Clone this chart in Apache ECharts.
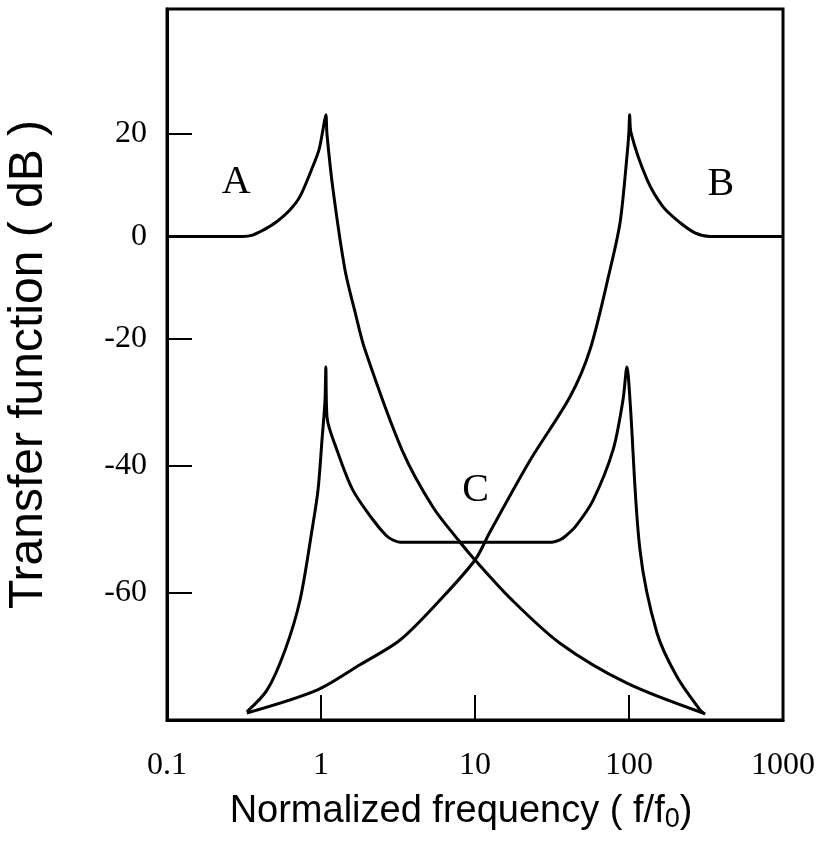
<!DOCTYPE html>
<html><head><meta charset="utf-8">
<script src="https://cdn.jsdelivr.net/npm/echarts@6/dist/echarts.min.js"></script>
<style>html,body{margin:0;padding:0;background:#fff}#c{width:819px;height:852px}</style>
</head><body><div id="c"></div>
<script>
// ---- data (frequency f/f0, transfer function in dB) ----
const curveA = [
  [0.1,0],[0.311,0],[0.356,0.2],[0.402,0.9],[0.45,1.7],[0.518,2.9],[0.630,5.2],[0.731,7.8],[0.887,13.7],[0.971,16.9],[1.03,20.8],
  [1.075,23.7],[1.094,19.8],[1.197,9.1],[1.431,-6.5],[1.663,-14.7],[1.931,-21.7],[3.36,-37.5],[5.34,-46.5],[8.0,-52.0],
  [10.0,-54.8],[16.9,-60.8],[35.6,-67.9],[97.0,-74.2],[302.6,-78.9]
];
const curveB = [
  [0.330,-78.9],[0.942,-75.3],[1.79,-71.3],[3.26,-67.4],[5.93,-61.1],[10.0,-54.8],[12.5,-50.4],[22.8,-39.1],[41.4,-29.1],
  [55.8,-21.7],[75.3,-6.5],[87.5,2.7],[97.0,15.6],[99.8,20.2],[101.0,23.7],[103,20.2],[130.8,11.1],[166,5.8],[214,2.7],
  [268,0.7],[336,0],[1000,0]
];
const curveC = [
  [0.330,-78.7],[0.446,-75.3],[0.584,-69.0],[0.731,-61.1],[0.874,-50.1],[0.956,-43.8],[1.015,-35.9],[1.062,-29.6],
  [1.075,-24.4],[1.094,-32.3],[1.27,-37.5],[1.61,-43.8],[2.18,-48.5],[2.64,-50.9],[2.93,-51.65],[3.26,-52.0],
  [31.6,-52.0],[35.6,-51.65],[38.4,-51.1],[45.0,-49.5],
  [58.4,-45.4],[78.7,-37.5],[91.4,-29.6],[97.0,-24.4],[101.5,-29.6],[117.8,-53.2],[152,-66.3],[205,-73.2],[289,-78.4],[312,-79.1]
];
const curveLabels = [ ['A',0.281,10.5], ['B',395,10.1], ['C',10.1,-43.9] ];
const yTickValues = [20, 0, -20, -40, -60];
const xMin = 0.1, xMax = 1000;
const yMinDb = -80;

// the original axis is drawn with a wider spacing below -20 dB
const K = 126.8 / 102.5;
function toU(db) { return db >= -20 ? db : -20 + (db + 20) * K; }
function fromU(u) { return u >= -20 ? u : -20 + (u + 20) / K; }

const chart = echarts.init(document.getElementById('c'), null, {renderer: 'canvas'});
const lineStyle = {color: '#000', width: 3, join: 'round'};
function mk(name, arr) {
  return {
    name, type: 'line', showSymbol: false, symbol: 'none', smooth: 0.3,
    lineStyle, data: arr.map(p => [p[0], toU(p[1])]), z: 3, animation: false
  };
}
const serif = '"Liberation Serif","Times New Roman",serif';
const sans = '"Liberation Sans",Arial,Helvetica,sans-serif';

chart.setOption({
  animation: false,
  backgroundColor: '#fff',
  grid: {left: 167, right: 36, top: 9, bottom: 132, containLabel: false, outerBoundsMode: 'none',
    show: true, borderColor: '#000', borderWidth: 3, backgroundColor: 'transparent'},
  xAxis: {
    type: 'log', logBase: 10, min: xMin, max: xMax,
    name: 'Normalized frequency ( f/f{sub|0})', nameLocation: 'middle', nameGap: 70,
    nameTextStyle: {fontFamily: sans, fontSize: 38, color: '#000', padding: [0, 28, 0, 0],
      rich: {sub: {fontFamily: sans, fontSize: 27, color: '#000', padding: [16, 0, 0, 0]}}},
    axisLine: {show: true, onZero: false, lineStyle: {color: '#000', width: 3}},
    axisTick: {show: true, inside: true, length: 25, lineStyle: {color: '#000', width: 2}},
    minorTick: {show: false},
    axisLabel: {fontFamily: serif, fontSize: 32, color: '#000', margin: 30,
      formatter: v => String(parseFloat(Number(v).toPrecision(2)))},
    splitLine: {show: false}
  },
  yAxis: {
    type: 'value', min: toU(yMinDb), max: 44.3,
    name: 'Transfer function ( dB )', nameLocation: 'middle', nameGap: 114,
    nameTextStyle: {fontFamily: sans, fontSize: 48, color: '#000'},
    axisLine: {show: true, onZero: false, lineStyle: {color: '#000', width: 3}},
    axisTick: {show: true, inside: true, length: 25, lineStyle: {color: '#000', width: 2},
      customValues: yTickValues.map(toU)},
    axisLabel: {fontFamily: serif, fontSize: 32, color: '#000', margin: 20,
      customValues: yTickValues.map(toU), formatter: v => String(Math.round(fromU(v)))},
    splitLine: {show: false}
  },
  series: [
    mk('A', curveA), mk('B', curveB), mk('C', curveC),
    {
      type: 'scatter', symbolSize: 0, z: 4, silent: true, itemStyle: {opacity: 1, color: '#000'},
      data: curveLabels.map(l => ({value: [l[1], toU(l[2])], name: l[0]})),
      label: {show: true, position: 'inside', formatter: p => p.name, fontFamily: serif, fontSize: 40, color: '#000', opacity: 1}
    }
  ]
});
</script></body></html>
